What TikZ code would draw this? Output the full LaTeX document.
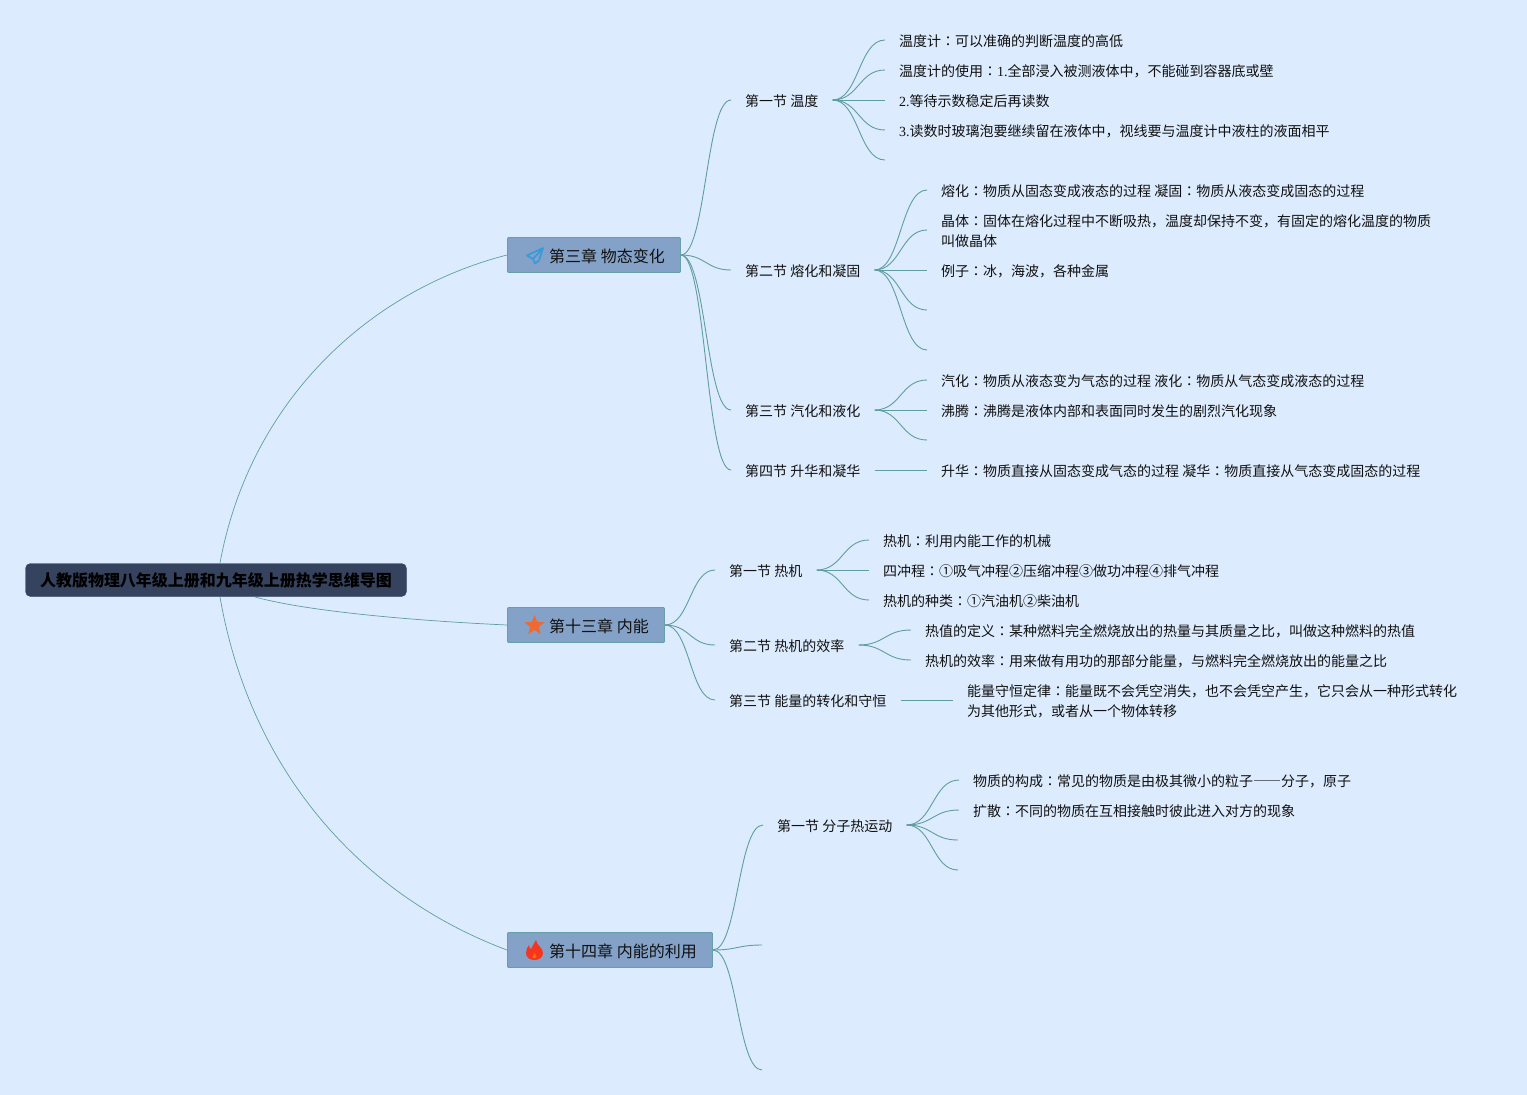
\documentclass[tikz,border=0pt]{standalone}
\usepackage{fontspec}
\setmainfont{Noto Sans CJK SC}
\newfontfamily\latinf{Liberation Serif}
\newfontfamily\tcfont{Noto Sans CJK TC}
\newcommand{\cl}{{\tcfont ：}}
\newcommand{\lt}[1]{{\latinf #1}}
\usetikzlibrary{shapes.geometric,calc}
\definecolor{bgblue}{HTML}{DCEBFD}
\definecolor{rootfill}{HTML}{36435F}
\definecolor{chapfill}{HTML}{84A1C8}
\definecolor{linkcol}{HTML}{5F9EA0}
\definecolor{txtcol}{HTML}{111111}
\definecolor{planecol}{HTML}{3A9AD9}
\definecolor{starcol}{HTML}{EE6A35}
\definecolor{flamecol}{HTML}{F5351E}
\tikzset{
  rootbox/.style={draw=rootfill,fill=rootfill,rounded corners=5pt,minimum width=381pt,minimum height=33pt,inner sep=0pt,font=\fontsize{16}{20}\selectfont\bfseries,text=black},
  chapbox/.style={draw=linkcol!80!chapfill,line width=0.9pt,fill=chapfill,rounded corners=1pt,minimum height=35pt,inner sep=0pt,anchor=west},
  chaptext/.style={inner sep=0pt,font=\fontsize{16}{20}\selectfont,text=txtcol,anchor=west},
  secnode/.style={inner xsep=14pt,inner ysep=0pt,font=\fontsize{14}{20}\selectfont,text=txtcol,anchor=west},
  leafnode/.style={inner xsep=14pt,inner ysep=0pt,font=\fontsize{14}{20}\selectfont,text=txtcol,anchor=west,align=left},
  link/.style={draw=linkcol,line width=0.7pt},
  % start stays on the chapter box, target goes up to the line of the text
  chapbranch/.style={draw=linkcol,line width=0.9pt,to path={
    let \p1=(\tikztostart),\p2=($(\tikztotarget)+(0,-1)$) in
    .. controls ({0.5*(\x1+\x2)},\y1) and ({0.5*(\x1+\x2)},\y2) .. (\p2)}},
  branch/.style={draw=linkcol,line width=0.9pt,to path={
    let \p1=($(\tikztostart)+(0,-1)$),\p2=($(\tikztotarget)+(0,-1)$) in
    (\p1) .. controls ({0.5*(\x1+\x2)},\y1) and ({0.5*(\x1+\x2)},\y2) .. (\p2)}}
}
\begin{document}
\begin{tikzpicture}[x=1pt,y=-1pt]
  \useasboundingbox (0,0) rectangle (1527,1095);
  \fill[bgblue] (0,0) rectangle (1527,1095);

  % root and chapters
  \node[rootbox] (root) at (216,580) {人教版物理八年级上册和九年级上册热学思维导图};
  \node[chapbox,minimum width=173pt] (ch3) at (507,255) {};
  \node[chapbox,minimum width=157pt] (ch13) at (507,625) {};
  \node[chapbox,minimum width=205pt] (ch14) at (507,950) {};
  \node[chaptext] (ch3t) at (549,256) {第三章 物态变化};
  \node[chaptext] (ch13t) at (549,626) {第十三章 内能};
  \node[chaptext] (ch14t) at (549,951) {第十四章 内能的利用};

  % icons
  \draw[planecol,line width=1.7pt,line join=round] (543,248) -- (527,255.5) -- (533,259) -- (535,263.5) -- (539,260.5) -- cycle (543,248) -- (533,259);
  \node[star,star points=5,star point ratio=2.3,fill=starcol,inner sep=0pt,minimum size=21pt] (staricon) at (534.5,625.5) {};
  \fill[flamecol] (536,940) .. controls (536.5,945) and (543,948) .. (543,953)
    .. controls (543,957.5) and (539,960) .. (534.5,960)
    .. controls (530,960) and (526,957.5) .. (526,953)
    .. controls (526,949.5) and (527.5,947) .. (529,945)
    .. controls (529,947.5) and (530,948.5) .. (531,949)
    .. controls (532.5,946.5) and (534,943) .. (536,940) -- cycle;
  \fill[orange!75!flamecol] (534.5,953) .. controls (534,955) and (532.5,955.5) .. (532.5,957)
    .. controls (532.5,958.5) and (536.5,958.5) .. (536.5,957)
    .. controls (536.5,955.5) and (535,955) .. (534.5,953) -- cycle;

  % chapter 3
  \node[secnode] (s31) at (731,101) {第一节 温度};
  \node[secnode] (s32) at (731,271) {第二节 熔化和凝固};
  \node[secnode] (s33) at (731,411) {第三节 汽化和液化};
  \node[secnode] (s34) at (731,471) {第四节 升华和凝华};
  \node[leafnode] (l311) at (885,41) {温度计\cl 可以准确的判断温度的高低};
  \node[leafnode] (l312) at (885,71) {温度计的使用\cl \lt{1.}全部浸入被测液体中，不能碰到容器底或壁};
  \node[leafnode] (l313) at (885,101) {\lt{2.}等待示数稳定后再读数};
  \node[leafnode] (l314) at (885,131) {\lt{3.}读数时玻璃泡要继续留在液体中，视线要与温度计中液柱的液面相平};
  \coordinate (l315) at (885,161);
  \node[leafnode] (l321) at (927,191) {熔化\cl 物质从固态变成液态的过程 凝固\cl 物质从液态变成固态的过程};
  \node[leafnode] (l322) at (927,231) {晶体\cl 固体在熔化过程中不断吸热，温度却保持不变，有固定的熔化温度的物质\\叫做晶体};
  \node[leafnode] (l323) at (927,271) {例子\cl 冰，海波，各种金属};
  \coordinate (l324) at (927,311);
  \coordinate (l325) at (927,351);
  \node[leafnode] (l331) at (927,381) {汽化\cl 物质从液态变为气态的过程 液化\cl 物质从气态变成液态的过程};
  \node[leafnode] (l332) at (927,411) {沸腾\cl 沸腾是液体内部和表面同时发生的剧烈汽化现象};
  \coordinate (l333) at (927,441);
  \node[leafnode] (l341) at (927,471) {升华\cl 物质直接从固态变成气态的过程 凝华\cl 物质直接从气态变成固态的过程};

  % chapter 13
  \node[secnode] (s131) at (715,571) {第一节 热机};
  \node[secnode] (s132) at (715,646) {第二节 热机的效率};
  \node[secnode] (s133) at (715,701) {第三节 能量的转化和守恒};
  \node[leafnode] (l1311) at (869,541) {热机\cl 利用内能工作的机械};
  \node[leafnode] (l1312) at (869,571) {四冲程\cl ①吸气冲程②压缩冲程③做功冲程④排气冲程};
  \node[leafnode] (l1313) at (869,601) {热机的种类\cl ①汽油机②柴油机};
  \node[leafnode] (l1321) at (911,631) {热值的定义\cl 某种燃料完全燃烧放出的热量与其质量之比，叫做这种燃料的热值};
  \node[leafnode] (l1322) at (911,661) {热机的效率\cl 用来做有用功的那部分能量，与燃料完全燃烧放出的能量之比};
  \node[leafnode] (l1331) at (953,701) {能量守恒定律\cl 能量既不会凭空消失，也不会凭空产生，它只会从一种形式转化\\为其他形式，或者从一个物体转移};

  % chapter 14
  \node[secnode] (s141) at (763,826) {第一节 分子热运动};
  \coordinate (s142) at (762,946);
  \coordinate (s143) at (762,1071);
  \node[leafnode] (l1411) at (959,781) {物质的构成\cl 常见的物质是由极其微小的粒子{\addfontfeatures{CharacterWidth=Full}——}分子，原子};
  \node[leafnode] (l1412) at (959,811) {扩散\cl 不同的物质在互相接触时彼此进入对方的现象};
  \coordinate (l1413) at (958,841);
  \coordinate (l1414) at (958,871);

  % root links
  \coordinate (rootup) at (220,563);
  \coordinate (rootmid) at (255,597);
  \coordinate (rootdown) at (220,597);
  \draw[link] (rootup) .. controls (250,400) and (370,290) .. (ch3.west);
  \draw[link] (rootmid) .. controls (310,612) and (420,621) .. (ch13.west);
  \draw[link] (rootdown) .. controls (250,770) and (360,895) .. (ch14.west);

  % chapter links
  \draw[chapbranch] (ch3.east) to (s31.west);
  \draw[chapbranch] (ch3.east) to (s32.west);
  \draw[chapbranch] (ch3.east) to (s33.west);
  \draw[chapbranch] (ch3.east) to (s34.west);
  \draw[chapbranch] (ch13.east) to (s131.west);
  \draw[chapbranch] (ch13.east) to (s132.west);
  \draw[chapbranch] (ch13.east) to (s133.west);
  \draw[chapbranch] (ch14.east) to (s141.west);
  \draw[chapbranch] (ch14.east) to (s142);
  \draw[chapbranch] (ch14.east) to (s143);

  % section links
  \draw[branch] (s31.east) to (l311.west);
  \draw[branch] (s31.east) to (l312.west);
  \draw[branch] (s31.east) to (l313.west);
  \draw[branch] (s31.east) to (l314.west);
  \draw[branch] (s31.east) to (l315);
  \draw[branch] (s32.east) to (l321.west);
  \draw[branch] (s32.east) to (l322.west);
  \draw[branch] (s32.east) to (l323.west);
  \draw[branch] (s32.east) to (l324);
  \draw[branch] (s32.east) to (l325);
  \draw[branch] (s33.east) to (l331.west);
  \draw[branch] (s33.east) to (l332.west);
  \draw[branch] (s33.east) to (l333);
  \draw[branch] (s34.east) to (l341.west);
  \draw[branch] (s131.east) to (l1311.west);
  \draw[branch] (s131.east) to (l1312.west);
  \draw[branch] (s131.east) to (l1313.west);
  \draw[branch] (s132.east) to (l1321.west);
  \draw[branch] (s132.east) to (l1322.west);
  \draw[branch] (s133.east) to (l1331.west);
  \draw[branch] (s141.east) to (l1411.west);
  \draw[branch] (s141.east) to (l1412.west);
  \draw[branch] (s141.east) to (l1413);
  \draw[branch] (s141.east) to (l1414);
\end{tikzpicture}
\end{document}
